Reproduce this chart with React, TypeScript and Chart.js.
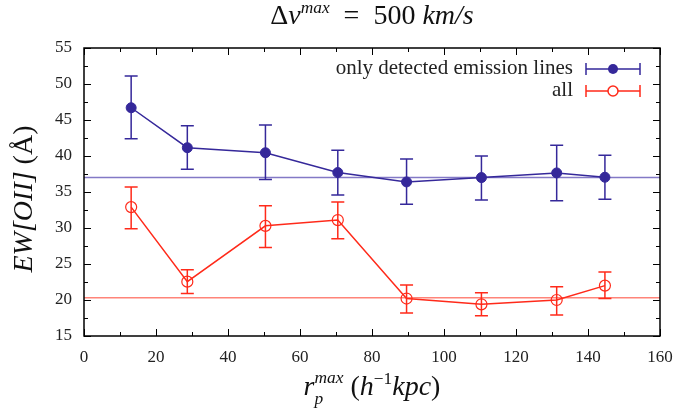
import React, { useEffect, useRef } from "react";
import { Chart, registerables } from "chart.js";

Chart.register(...registerables);

const xValues = [13.1, 28.7, 50.4, 70.5, 89.6, 110.4, 131.3, 144.7];

const detectedEW = [46.7, 41.15, 40.45, 37.7, 36.4, 37.0, 37.65, 37.05];
const detectedHigh = [51.1, 44.2, 44.3, 40.8, 39.6, 40.0, 41.5, 40.1];
const detectedLow = [42.4, 38.15, 36.75, 34.6, 33.3, 33.9, 33.8, 34.0];
const detectedMean = 37.0;

const allEW = [32.9, 22.55, 30.3, 31.1, 20.2, 19.4, 20.0, 22.0];
const allHigh = [35.7, 24.2, 33.1, 33.6, 22.1, 21.0, 21.85, 23.9];
const allLow = [29.9, 20.9, 27.3, 28.5, 18.2, 17.8, 17.9, 20.2];
const allMean = 20.3;

const xRange = [0, 160];
const yRange = [15, 55];
const xMajorStep = 20;
const xMinorStep = 10;
const yMajorStep = 5;
const yMinorStep = 2.5;

const legendLabels = ["only detected emission lines", "all"];

const BLUE = "#35289a";
const BLUE_LIGHT = "#8379c6";
const RED = "#ff2a1a";
const RED_LIGHT = "#ff8479";
const SERIF = "'Liberation Serif', 'DejaVu Serif', serif";

type Run = { t: string; it?: boolean; sc?: number; dy?: number; stackNext?: boolean };

function measureRuns(ctx: CanvasRenderingContext2D, runs: Run[], size: number) {
  let w = 0;
  let pendingStack = 0;
  for (const r of runs) {
    const s = size * (r.sc ?? 1);
    ctx.font = `${r.it ? "italic " : ""}${s}px ${SERIF}`;
    const rw = ctx.measureText(r.t).width;
    if (r.stackNext) {
      pendingStack = rw;
      continue;
    }
    w += Math.max(rw, pendingStack);
    pendingStack = 0;
  }
  return w;
}

function drawRuns(ctx: CanvasRenderingContext2D, runs: Run[], size: number, x: number, y: number) {
  let cx = x;
  let pendingStack = 0;
  for (const r of runs) {
    const s = size * (r.sc ?? 1);
    ctx.font = `${r.it ? "italic " : ""}${s}px ${SERIF}`;
    ctx.textAlign = "left";
    ctx.textBaseline = "alphabetic";
    ctx.fillText(r.t, cx, y + (r.dy ?? 0) * size);
    const rw = ctx.measureText(r.t).width;
    if (r.stackNext) {
      pendingStack = rw;
      continue;
    }
    cx += Math.max(rw, pendingStack);
    pendingStack = 0;
  }
}

const decorPlugin = {
  id: "decor",
  afterDatasetsDraw(chart: any) {
    const ctx: CanvasRenderingContext2D = chart.ctx;
    const xs = chart.scales.x;
    const ys = chart.scales.y;
    const area = chart.chartArea;
    ctx.save();

    // error bars
    const drawErr = (lo: number[], hi: number[], color: string) => {
      ctx.strokeStyle = color;
      ctx.lineWidth = 1.5;
      for (let i = 0; i < xValues.length; i++) {
        const px = xs.getPixelForValue(xValues[i]);
        const pt = ys.getPixelForValue(hi[i]);
        const pb = ys.getPixelForValue(lo[i]);
        ctx.beginPath();
        ctx.moveTo(px, pt);
        ctx.lineTo(px, pb);
        ctx.moveTo(px - 6.5, pt);
        ctx.lineTo(px + 6.5, pt);
        ctx.moveTo(px - 6.5, pb);
        ctx.lineTo(px + 6.5, pb);
        ctx.stroke();
      }
    };
    drawErr(detectedLow, detectedHigh, BLUE);
    drawErr(allLow, allHigh, RED);

    // frame
    ctx.strokeStyle = "#000";
    ctx.lineWidth = 1.5;
    ctx.strokeRect(area.left, area.top, area.right - area.left, area.bottom - area.top);

    // ticks
    ctx.lineWidth = 1;
    ctx.beginPath();
    for (let v = xRange[0]; v <= xRange[1] + 1e-6; v += xMinorStep) {
      const px = Math.round(xs.getPixelForValue(v)) + 0.5;
      const len = Math.abs(v / xMajorStep - Math.round(v / xMajorStep)) < 1e-6 ? 7 : 4;
      ctx.moveTo(px, area.bottom);
      ctx.lineTo(px, area.bottom - len);
      ctx.moveTo(px, area.top);
      ctx.lineTo(px, area.top + len);
    }
    for (let v = yRange[0]; v <= yRange[1] + 1e-6; v += yMinorStep) {
      const py = Math.round(ys.getPixelForValue(v)) + 0.5;
      const len = Math.abs(v / yMajorStep - Math.round(v / yMajorStep)) < 1e-6 ? 7 : 4;
      ctx.moveTo(area.left, py);
      ctx.lineTo(area.left + len, py);
      ctx.moveTo(area.right, py);
      ctx.lineTo(area.right - len, py);
    }
    ctx.stroke();

    // legend
    const legendRight = 573;
    const sx0 = 586;
    const sx1 = 640;
    const rows = [
      { label: legendLabels[0], color: BLUE, filled: true, y: 69 },
      { label: legendLabels[1], color: RED, filled: false, y: 91 },
    ];
    for (const r of rows) {
      ctx.fillStyle = "#222";
      ctx.font = `21px ${SERIF}`;
      ctx.textAlign = "right";
      ctx.textBaseline = "alphabetic";
      ctx.fillText(r.label, legendRight, r.y + 5);
      ctx.strokeStyle = r.color;
      ctx.lineWidth = 1.5;
      ctx.beginPath();
      ctx.moveTo(sx0, r.y);
      ctx.lineTo(sx1, r.y);
      ctx.moveTo(sx0, r.y - 6);
      ctx.lineTo(sx0, r.y + 6);
      ctx.moveTo(sx1, r.y - 6);
      ctx.lineTo(sx1, r.y + 6);
      ctx.stroke();
      const mx = (sx0 + sx1) / 2;
      ctx.beginPath();
      ctx.arc(mx, r.y, 5, 0, Math.PI * 2);
      if (r.filled) {
        ctx.fillStyle = r.color;
        ctx.fill();
      } else {
        ctx.fillStyle = "#fff";
        ctx.fill();
        ctx.stroke();
      }
    }

    ctx.fillStyle = "#111";
    // title
    const titleRuns: Run[] = [
      { t: "Δ" },
      { t: "v", it: true },
      { t: "max", it: true, sc: 0.62, dy: -0.4 },
      { t: "  =  " },
      { t: "500 " },
      { t: "km/s", it: true },
    ];
    const tSize = 28;
    const tw = measureRuns(ctx, titleRuns, tSize);
    drawRuns(ctx, titleRuns, tSize, 372 - tw / 2, 24);

    // x title
    const xRuns: Run[] = [
      { t: "r", it: true },
      { t: "p", it: true, sc: 0.62, dy: 0.33, stackNext: true },
      { t: "max", it: true, sc: 0.62, dy: -0.42 },
      { t: " (" },
      { t: "h", it: true },
      { t: "−1", sc: 0.62, dy: -0.4 },
      { t: "kpc", it: true },
      { t: ")" },
    ];
    const xSize = 28;
    const xw = measureRuns(ctx, xRuns, xSize);
    drawRuns(ctx, xRuns, xSize, 372 - xw / 2, 395);

    // y title
    const yRuns: Run[] = [{ t: "EW[OII]", it: true }, { t: " (Å)" }];
    const ySize = 28;
    const yw = measureRuns(ctx, yRuns, ySize);
    ctx.translate(32, 199);
    ctx.rotate(-Math.PI / 2);
    drawRuns(ctx, yRuns, ySize, -yw / 2, 0);

    ctx.restore();
  },
};

export default function App() {
  const canvasRef = useRef<HTMLCanvasElement | null>(null);

  useEffect(() => {
    document.body.style.margin = "0";
    const canvas = canvasRef.current;
    if (!canvas) return;
    const chart = new Chart(canvas, {
      type: "line",
      data: {
        datasets: [
          {
            label: legendLabels[0],
            data: xValues.map((x, i) => ({ x, y: detectedEW[i] })),
            borderColor: BLUE,
            backgroundColor: BLUE,
            borderWidth: 1.5,
            pointRadius: 5,
            pointBorderWidth: 1,
            pointBackgroundColor: BLUE,
            pointBorderColor: BLUE,
            order: 1,
          },
          {
            label: legendLabels[1],
            data: xValues.map((x, i) => ({ x, y: allEW[i] })),
            borderColor: RED,
            backgroundColor: "transparent",
            borderWidth: 1.5,
            pointRadius: 5.5,
            pointBorderWidth: 1.2,
            pointBackgroundColor: "rgba(255,255,255,0)",
            pointBorderColor: RED,
            order: 2,
          },
          {
            label: "detected mean",
            data: [
              { x: xRange[0], y: detectedMean },
              { x: xRange[1], y: detectedMean },
            ],
            borderColor: BLUE_LIGHT,
            borderWidth: 1.5,
            pointRadius: 0,
            order: 3,
          },
          {
            label: "all mean",
            data: [
              { x: xRange[0], y: allMean },
              { x: xRange[1], y: allMean },
            ],
            borderColor: RED_LIGHT,
            borderWidth: 1.5,
            pointRadius: 0,
            order: 4,
          },
        ],
      },
      options: {
        animation: false,
        responsive: false,
        maintainAspectRatio: false,
        layout: { padding: { top: 48, right: 17, left: 0, bottom: 0 } },
        plugins: { legend: { display: false }, tooltip: { enabled: false }, title: { display: false } },
        scales: {
          x: {
            type: "linear",
            min: xRange[0],
            max: xRange[1],
            afterFit: (s: any) => {
              s.height = 73;
              s.paddingLeft = 0;
              s.paddingRight = 0;
            },
            grid: { display: false, drawTicks: false },
            border: { display: false },
            ticks: {
              stepSize: xMajorStep,
              padding: 11,
              color: "#222",
              font: { family: SERIF, size: 17 },
              maxRotation: 0,
            },
          },
          y: {
            type: "linear",
            min: yRange[0],
            max: yRange[1],
            afterFit: (s: any) => {
              s.width = 84;
              s.paddingTop = 0;
              s.paddingBottom = 0;
            },
            grid: { display: false, drawTicks: false },
            border: { display: false },
            ticks: {
              stepSize: yMajorStep,
              padding: 12,
              color: "#222",
              font: { family: SERIF, size: 17 },
            },
          },
        },
      },
      plugins: [decorPlugin],
    });
    return () => chart.destroy();
  }, []);

  return (
    <div style={{ width: 677, height: 409 }}>
      <canvas ref={canvasRef} width={677} height={409} style={{ display: "block" }} />
    </div>
  );
}
